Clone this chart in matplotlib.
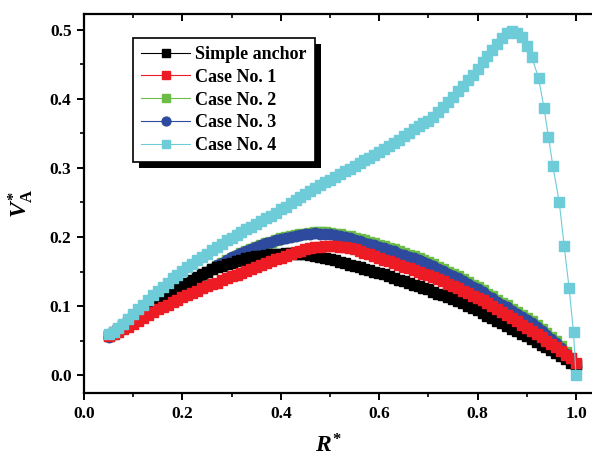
import numpy as np
import matplotlib
matplotlib.use("Agg")
import matplotlib.pyplot as plt
from matplotlib.patches import Rectangle
from matplotlib.transforms import IdentityTransform
from matplotlib.ticker import MultipleLocator

plt.rcParams["font.family"] = "Liberation Serif"
plt.rcParams["font.weight"] = "bold"
plt.rcParams["mathtext.fontset"] = "custom"
plt.rcParams["mathtext.it"] = "Liberation Serif:italic:bold"
plt.rcParams["mathtext.rm"] = "Liberation Serif:bold"
plt.rcParams["mathtext.bf"] = "Liberation Serif:bold"

# R* sample positions (0.05 ... 1.00)
R = np.round(np.arange(0.05, 1.0001, 0.01), 2)

simple_anchor = [
    .058, .062, .067, .072, .077, .082, .087, .092, .097, .101,
    .106, .111, .116, .121, .126, .130, .134, .138, .142, .146,
    .150, .153, .156, .158, .161, .163, .165, .167, .169, .171,
    .172, .173, .174, .175, .176, .176, .177, .177, .176, .176,
    .175, .174, .172, .171, .170, .168, .166, .164, .162, .160,
    .158, .156, .154, .152, .150, .148, .146, .143, .141, .138,
    .136, .134, .131, .129, .126, .124, .121, .118, .116, .113,
    .110, .107, .104, .100, .097, .094, .090, .086, .083, .079,
    .075, .071, .067, .064, .060, .056, .052, .048, .044, .040,
    .036, .032, .027, .023, .018, .014,
]

case1 = [
    .057, .060, .063, .067, .070, .074, .078, .082, .087, .091,
    .095, .099, .102, .106, .109, .113, .116, .119, .122, .126,
    .129, .132, .134, .137, .140, .143, .145, .148, .151, .154,
    .157, .160, .162, .165, .168, .170, .173, .175, .178, .180,
    .182, .184, .185, .186, .187, .187, .187, .186, .185, .184,
    .182, .180, .177, .175, .172, .170, .167, .165, .162, .160,
    .157, .155, .152, .150, .147, .145, .142, .139, .136, .132,
    .129, .126, .122, .119, .115, .112, .108, .104, .100, .095,
    .091, .087, .082, .078, .073, .068, .064, .059, .055, .050,
    .045, .040, .035, .029, .024, .018,
]

case2 = [
    .056, .060, .065, .070, .075, .080, .085, .090, .095, .099,
    .104, .108, .113, .117, .122, .126, .131, .135, .140, .144,
    .149, .153, .158, .162, .166, .170, .173, .177, .180, .183,
    .186, .189, .191, .193, .196, .198, .200, .202, .203, .204,
    .205, .206, .207, .207, .207, .206, .205, .204, .202, .201,
    .199, .197, .195, .193, .191, .189, .187, .184, .182, .179,
    .177, .174, .172, .169, .167, .164, .161, .157, .154, .150,
    .147, .143, .139, .135, .131, .127, .123, .118, .114, .109,
    .105, .101, .096, .092, .087, .083, .078, .072, .067, .061,
    .055, .049, .042, .034, .025, .016,
]

case3 = [
    .055, .059, .064, .070, .075, .080, .085, .090, .095, .099,
    .104, .109, .113, .118, .122, .127, .132, .136, .141, .145,
    .150, .154, .159, .163, .167, .171, .174, .177, .180, .183,
    .186, .188, .191, .193, .195, .197, .199, .200, .202, .203,
    .204, .205, .206, .205, .205, .204, .203, .201, .200, .198,
    .196, .194, .192, .190, .188, .186, .184, .181, .179, .176,
    .174, .171, .169, .166, .164, .161, .158, .154, .151, .147,
    .144, .140, .136, .132, .128, .124, .120, .115, .111, .106,
    .102, .098, .093, .089, .084, .080, .075, .069, .064, .058,
    .052, .046, .039, .031, .022, .012,
]

# Case No. 4: dense part on the same R grid (0.05 ... 0.91), then sparse tail
case4_head = [
    .060, .063, .068, .074, .081, .088, .095, .102, .109, .116,
    .122, .128, .134, .140, .145, .151, .156, .161, .166, .171,
    .176, .181, .186, .190, .195, .199, .203, .207, .211, .215,
    .219, .223, .227, .231, .235, .240, .244, .249, .253, .258,
    .262, .266, .271, .275, .279, .283, .287, .291, .295, .299,
    .303, .307, .311, .315, .319, .323, .327, .332, .336, .341,
    .346, .351, .356, .361, .365, .368, .374, .381, .388, .396,
    .403, .411, .419, .427, .435, .444, .453, .462, .471, .480,
    .488, .495, .498, .496, .489, .477, .461,
]
case4_tail_r = [0.924, 0.935, 0.944, 0.953, 0.966, 0.976, 0.986, 0.995, 1.0]
case4_tail_v = [.430, .387, .345, .303, .250, .187, .126, .062, .000]

r4 = np.concatenate([R[:len(case4_head)], case4_tail_r])
v4 = np.concatenate([case4_head, case4_tail_v])

fig = plt.figure(figsize=(5.92, 4.61), dpi=100)
ax = fig.add_axes([0.1419, 0.1475, 0.8726, 0.8221])

ms = 7
lw = 0.8
h2, = ax.plot(R, case2, "-s", color="#6cbd45", ms=ms, lw=lw, label="Case No. 2", zorder=2)
h3, = ax.plot(R, case3, "-o", color="#2e4a9e", ms=ms + 0.5, lw=lw, label="Case No. 3", zorder=3)
h0, = ax.plot(R, simple_anchor, "-s", color="black", ms=ms, lw=lw, label="Simple anchor", zorder=4)
h1, = ax.plot(R, case1, "-s", color="#ed1c24", ms=ms, lw=lw, label="Case No. 1", zorder=5)
h4, = ax.plot(r4, v4, "-s", color="#6ecbd8", ms=ms, lw=lw, label="Case No. 4", zorder=6)

ax.set_xlim(0, 1.05)
ax.set_ylim(-0.026, 0.523)
ax.xaxis.set_major_locator(MultipleLocator(0.2))
ax.xaxis.set_minor_locator(MultipleLocator(0.1))
ax.yaxis.set_major_locator(MultipleLocator(0.1))
ax.yaxis.set_minor_locator(MultipleLocator(0.05))
ax.xaxis.set_major_formatter(plt.FormatStrFormatter("%.1f"))
ax.yaxis.set_major_formatter(plt.FormatStrFormatter("%.1f"))
ax.tick_params(which="major", direction="out", length=5, width=1.4, labelsize=12.5, pad=4)
ax.tick_params(which="minor", direction="out", length=3, width=1.2)

for s in ["left", "bottom"]:
    ax.spines[s].set_linewidth(1.6)
ax.spines["right"].set_visible(False)
ax.spines["top"].set_visible(False)

top = ax.secondary_xaxis("top")
top.xaxis.set_major_locator(MultipleLocator(0.2))
top.xaxis.set_minor_locator(MultipleLocator(0.1))
top.tick_params(which="major", direction="in", length=5, width=1.4, labeltop=False)
top.tick_params(which="minor", direction="in", length=3, width=1.2)
top.spines["top"].set_linewidth(1.6)

ax.set_xlabel(r"$R^{*}$", fontsize=17)
ax.set_ylabel(r"$V^{*}_{\mathrm{A}}$", fontsize=17)
ax.xaxis.set_label_coords(0.474, -0.108)
ax.yaxis.set_label_coords(-0.095, 0.5)

leg = ax.legend(
    handles=[h0, h1, h2, h3, h4],
    loc="upper left",
    bbox_to_anchor=(0.095, 0.937),
    borderaxespad=0,
    fancybox=False,
    framealpha=1,
    edgecolor="black",
    fontsize=13,
    markerscale=0.85,
    handlelength=2.7,
    handletextpad=0.3,
    labelspacing=0.32,
    borderpad=0.45,
)
leg.get_frame().set_linewidth(1.2)
leg.set_zorder(10)

# hard black drop shadow behind the legend box
fig.canvas.draw()
bb = leg.get_window_extent()
shadow = Rectangle((bb.x0 + 6, bb.y0 - 6), bb.width, bb.height, transform=IdentityTransform(),
                   facecolor="black", edgecolor="none", zorder=9, clip_on=False)
ax.add_patch(shadow)

fig.savefig("out.png", dpi=100)
